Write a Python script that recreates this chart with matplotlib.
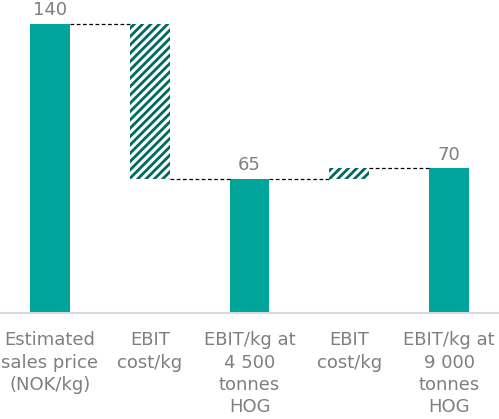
import matplotlib.pyplot as plt

# waterfall: sales price -> EBIT at two production volumes
categories = ["Estimated\nsales price\n(NOK/kg)", "EBIT\ncost/kg",
              "EBIT/kg at\n4 500\ntonnes\nHOG", "EBIT\ncost/kg",
              "EBIT/kg at\n9 000\ntonnes\nHOG"]
totals = [140, None, 65, None, 70]
steps_from = [None, 140, None, 65, None]
steps_to = [None, 65, None, 70, None]

teal = "#00a499"
dark = "#006a5e"
grey = "#7f7f7f"

plt.rcParams["hatch.linewidth"] = 2.0

fig = plt.figure(figsize=(4.99, 4.19), dpi=100)
ax = fig.add_axes([0.0, 0.253, 1.0, 0.747])

w = 0.4
for i in range(len(categories)):
    if totals[i] is not None:
        ax.bar(i, totals[i], width=w, color=teal, linewidth=0)
        ax.text(i, totals[i] + 2.3, str(totals[i]), ha="center", va="bottom",
                fontsize=13, color=grey)
    else:
        lo = min(steps_from[i], steps_to[i])
        hi = max(steps_from[i], steps_to[i])
        ax.bar(i, hi - lo, bottom=lo, width=w, facecolor="white",
               edgecolor=dark, linewidth=0, hatch="////")

# dashed connectors between neighbouring bars
for i in range(len(categories) - 1):
    y = totals[i] if totals[i] is not None else steps_to[i]
    ax.plot([i + w / 2, i + 1 - w / 2], [y, y], color="black", lw=0.9,
            ls=(0, (3, 2)))

ax.set_xlim(-0.5, 4.5)
ax.set_ylim(0, 151.6)
ax.set_yticks([])
ax.set_xticks(range(len(categories)))
ax.set_xticklabels(categories, fontsize=13, color=grey, linespacing=1.32)
ax.tick_params(axis="x", length=0, pad=13)
for s in ["top", "right", "left"]:
    ax.spines[s].set_visible(False)
ax.spines["bottom"].set_color("#d9d9d9")
ax.spines["bottom"].set_linewidth(1.5)

fig.savefig("out.png", dpi=100)
